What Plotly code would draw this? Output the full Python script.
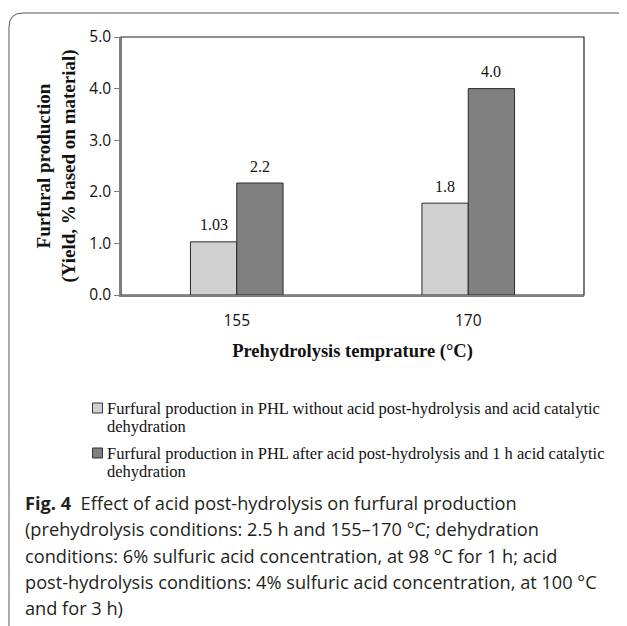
import plotly.graph_objects as go

categories = ["155", "170"]
without_post = [1.03, 1.78]
without_labels = ["1.03", "1.8"]
with_post = [2.17, 4.0]
with_labels = ["2.2", "4.0"]
series_names = [
    ["Furfural production in PHL without acid post-hydrolysis and acid catalytic", "dehydration"],
    ["Furfural production in PHL after acid post-hydrolysis and 1 h acid catalytic", "dehydration"],
]
series_colors = ["#d0d0d0", "#808080"]
y_ticks = [0, 1, 2, 3, 4, 5]
y_tick_labels = ["0.0", "1.0", "2.0", "3.0", "4.0", "5.0"]
caption_lines = [
    "<b>Fig. 4</b>  Effect of acid post-hydrolysis on furfural production",
    "(prehydrolysis conditions: 2.5 h and 155–170 °C; dehydration",
    "conditions: 6% sulfuric acid concentration, at 98 °C for 1 h; acid",
    "post-hydrolysis conditions: 4% sulfuric acid concentration, at 100 °C",
    "and for 3 h)",
]

# page has an 8px body margin; figure sized to fill the 627x626 window
OFF = 8
W, H = 627 - OFF, 626 - OFF
L, R, T, B = 121, 584, 37, 295   # plot area in page pixels


def px_x(px):
    return (px - L) / (R - L)


def px_y(py):
    return (B - py) / (B - T)


serif = "Liberation Serif, Times New Roman, serif"
sans = "Open Sans, Noto Sans, sans-serif"

fig = go.Figure()
for name, vals, labs, col in [(series_names[0], without_post, without_labels, series_colors[0]),
                              (series_names[1], with_post, with_labels, series_colors[1])]:
    fig.add_trace(go.Bar(
        x=categories, y=vals, name=" ".join(name),
        marker=dict(color=col, line=dict(color="#2a2a2a", width=1)),
        text=labs, textposition="none", showlegend=False,
    ))

# value labels above bars (x given as category index)
bar_px = (R - L) / 2 * 0.2
for vals, labs, shift in [(without_post, without_labels, -bar_px / 2), (with_post, with_labels, bar_px / 2)]:
    for i, (v, t) in enumerate(zip(vals, labs)):
        fig.add_annotation(x=i, y=v, text=t, showarrow=False, xshift=shift,
                           yanchor="middle", yshift=17,
                           font=dict(family=serif, size=16, color="#111"))

# legend (manual, wrapped like the reference)
leg_y0 = [408, 453]
for i, (lines, col) in enumerate(zip(series_names, series_colors)):
    yc = leg_y0[i]
    fig.add_shape(type="rect", xref="paper", yref="paper",
                  x0=px_x(92.5), x1=px_x(102.5), y0=px_y(yc - 5), y1=px_y(yc + 5),
                  fillcolor=col, line=dict(color="#333", width=1))
    for j, line in enumerate(lines):
        fig.add_annotation(xref="paper", yref="paper", x=px_x(104.5), y=px_y(yc + j * 18.5),
                           xanchor="left", yanchor="middle", showarrow=False, align="left",
                           text=line, font=dict(family=serif, size=16.5, color="#111"))

# caption
for i, line in enumerate(caption_lines):
    fig.add_annotation(xref="paper", yref="paper", x=px_x(23), y=px_y(503 + i * 26.3),
                       xanchor="left", yanchor="middle", showarrow=False, align="left",
                       text=line, font=dict(family=sans, size=18.2, color="#231f20"))

# outer rounded frame (left + top)
r = 14
fx, fy = 9, 13
path = (f"M {px_x(fx)} {px_y(640)} L {px_x(fx)} {px_y(fy + r)} "
        f"Q {px_x(fx)} {px_y(fy)} {px_x(fx + r)} {px_y(fy)} L {px_x(640)} {px_y(fy)}")
fig.add_shape(type="path", xref="paper", yref="paper", path=path,
              line=dict(color="#555", width=1))
# plot border
fig.add_shape(type="rect", xref="paper", yref="paper", x0=0, y0=0, x1=1, y1=1,
              line=dict(color="#222", width=1.2), layer="below")

fig.update_layout(
    width=W, height=H,
    margin=dict(l=L - OFF, r=627 - R, t=T - OFF, b=626 - B),
    paper_bgcolor="white", plot_bgcolor="white",
    barmode="group", bargap=0.6, bargroupgap=0,
    showlegend=False,
    xaxis=dict(
        type="category", range=[-0.5, len(categories) - 0.5],
        showline=True, linecolor="#808080", linewidth=1.5,
        ticks="", ticklabelstandoff=11,
        tickfont=dict(family=sans, size=15.5, color="#111"),
        title=dict(text="<b>Prehydrolysis temprature (°C)</b>",
                   font=dict(family=serif, size=18.5, color="#111"), standoff=14),
        showgrid=False,
    ),
    yaxis=dict(
        range=[0, 5], tickvals=y_ticks, ticktext=y_tick_labels,
        showline=True, linecolor="#808080", linewidth=1.5,
        ticks="outside", ticklen=5, tickcolor="#808080",
        tickfont=dict(family=sans, size=15.5, color="#111"),
        title=dict(text="<b>Furfural production<br>(Yield, % based on material)</b>",
                   font=dict(family=serif, size=19, color="#111"), standoff=9),
        showgrid=False, zeroline=False,
    ),
)

fig.write_html("out.html")
